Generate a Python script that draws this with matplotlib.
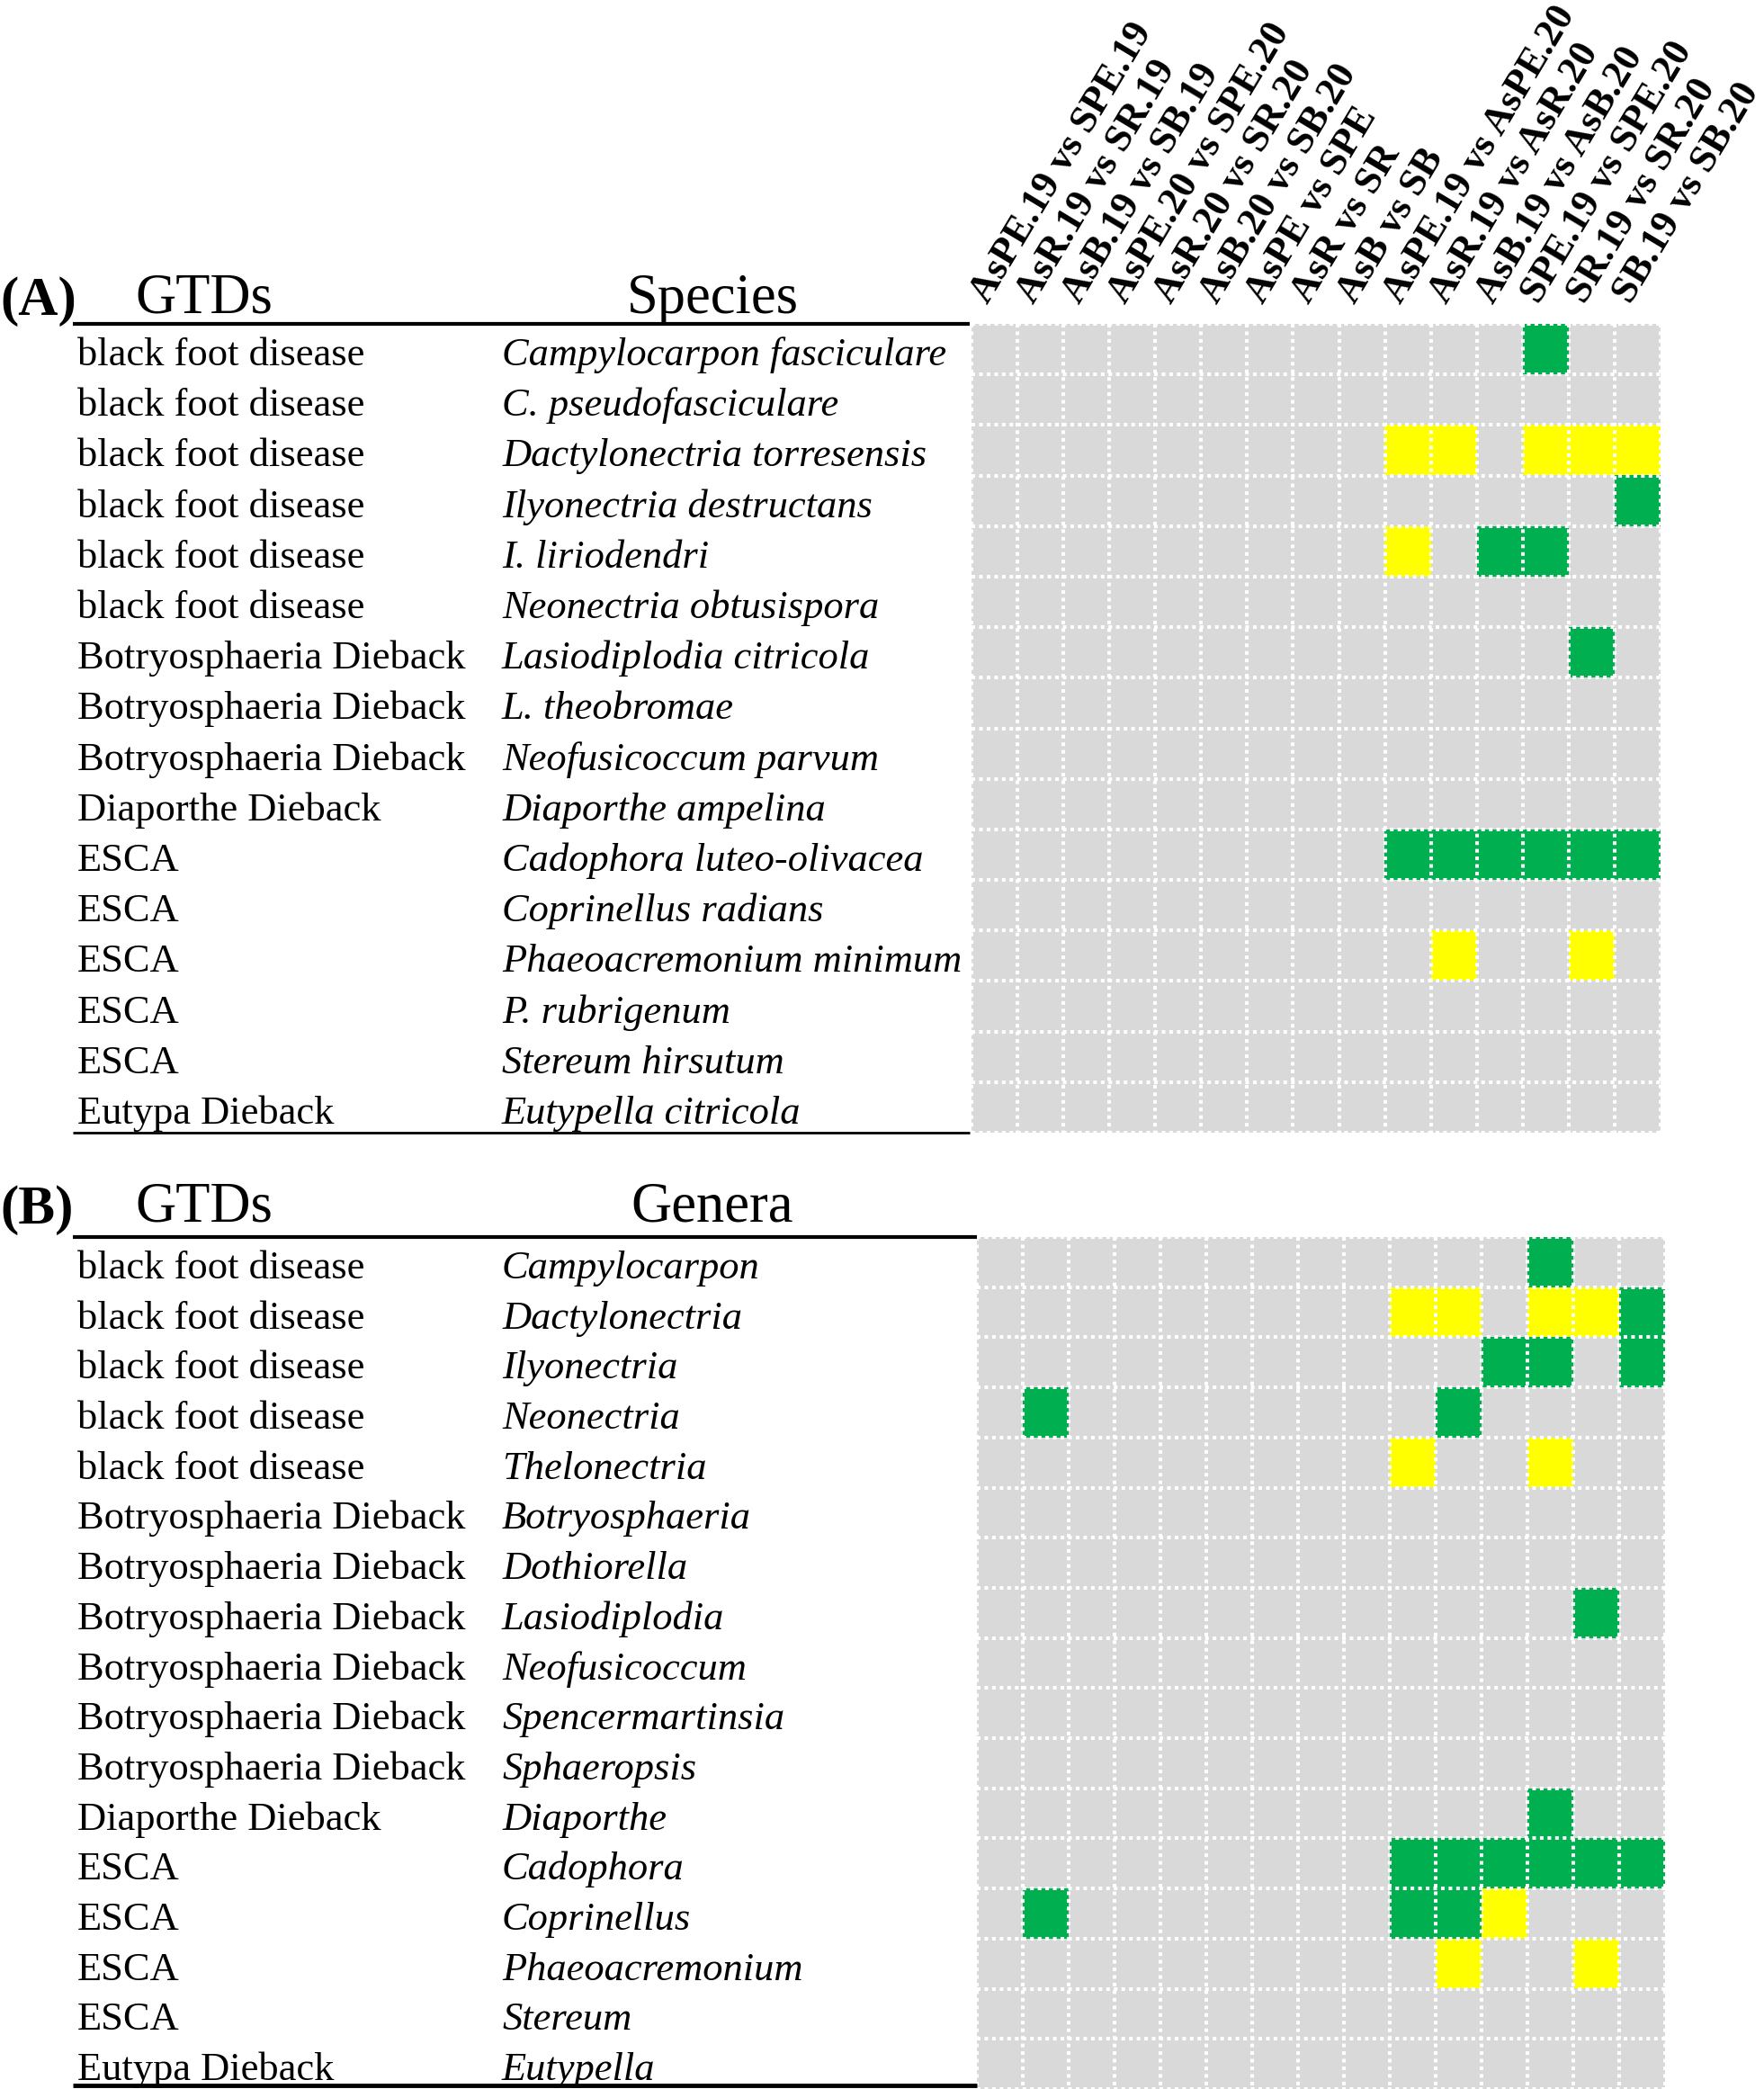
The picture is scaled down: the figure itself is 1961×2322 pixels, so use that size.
import numpy as np
import matplotlib.pyplot as plt
from matplotlib.colors import ListedColormap

plt.rcParams['font.family'] = ['Liberation Serif', 'DejaVu Serif']

comparisons = ["AsPE.19 vs SPE.19", "AsR.19 vs SR.19", "AsB.19 vs SB.19",
               "AsPE.20 vs SPE.20", "AsR.20 vs SR.20", "AsB.20 vs SB.20",
               "AsPE vs SPE", "AsR vs SR", "AsB vs SB",
               "AsPE.19 vs AsPE.20", "AsR.19 vs AsR.20", "AsB.19 vs AsB.20",
               "SPE.19 vs SPE.20", "SR.19 vs SR.20", "SB.19 vs SB.20"]

# (A) species
gtd_a = ["black foot disease"] * 6 + ["Botryosphaeria Dieback"] * 3 + \
        ["Diaporthe Dieback"] + ["ESCA"] * 5 + ["Eutypa Dieback"]
species = ["Campylocarpon fasciculare", "C. pseudofasciculare", "Dactylonectria torresensis",
           "Ilyonectria destructans", "I. liriodendri", "Neonectria obtusispora",
           "Lasiodiplodia citricola", "L. theobromae", "Neofusicoccum parvum",
           "Diaporthe ampelina", "Cadophora luteo-olivacea", "Coprinellus radians",
           "Phaeoacremonium minimum", "P. rubrigenum", "Stereum hirsutum",
           "Eutypella citricola"]
# 0 = no change, 1 = yellow, 2 = green
cells_a = ["000000000000200",
           "000000000000000",
           "000000000110111",
           "000000000000002",
           "000000000102200",
           "000000000000000",
           "000000000000020",
           "000000000000000",
           "000000000000000",
           "000000000000000",
           "000000000222222",
           "000000000000000",
           "000000000010010",
           "000000000000000",
           "000000000000000",
           "000000000000000"]

# (B) genera
gtd_b = ["black foot disease"] * 5 + ["Botryosphaeria Dieback"] * 6 + \
        ["Diaporthe Dieback"] + ["ESCA"] * 4 + ["Eutypa Dieback"]
genera = ["Campylocarpon", "Dactylonectria", "Ilyonectria", "Neonectria", "Thelonectria",
          "Botryosphaeria", "Dothiorella", "Lasiodiplodia", "Neofusicoccum",
          "Spencermartinsia", "Sphaeropsis", "Diaporthe", "Cadophora", "Coprinellus",
          "Phaeoacremonium", "Stereum", "Eutypella"]
cells_b = ["000000000000200",
           "000000000110112",
           "000000000002202",
           "020000000020000",
           "000000000100100",
           "000000000000000",
           "000000000000000",
           "000000000000020",
           "000000000000000",
           "000000000000000",
           "000000000000000",
           "000000000000200",
           "000000000222222",
           "020000000221000",
           "000000000010010",
           "000000000000000",
           "000000000000000"]

cmap = ListedColormap(['#D9D9D9', '#FFFF00', '#00B050'])

W, H = 1961, 2322
fig = plt.figure(figsize=(W / 100, H / 100), dpi=100)
ax = fig.add_axes([0, 0, 1, 1])


def panel(tag, head2, gtds, names, cells, gx0, gx1, gy0, gy1, lx0, ty):
    m = np.array([[int(c) for c in r] for r in cells])
    nr, nc = m.shape
    ax.imshow(m, cmap=cmap, vmin=0, vmax=2, extent=(gx0, gx1, gy1, gy0),
              interpolation='nearest', aspect='auto', origin='upper')
    xs = np.linspace(gx0, gx1, nc + 1)
    ys = np.linspace(gy0, gy1, nr + 1)
    ax.hlines(ys, gx0, gx1, colors='white', linewidth=2.9, linestyles=(0, (1, 1.1)))
    ax.vlines(xs, gy0, gy1, colors='white', linewidth=2.9, linestyles=(0, (1, 1.1)))
    rh = (gy1 - gy0) / nr
    for i in range(nr):
        yc = gy0 + (i + 0.5) * rh + 18
        ax.text(86, yc, gtds[i], fontsize=32, va='baseline', ha='left')
        ax.text(558, yc, names[i], fontsize=32, style='italic', va='baseline', ha='left')
    # header and rules
    ax.text(0, ty + 2, tag, fontsize=44, fontweight='bold', va='baseline', ha='left')
    ax.text(227, ty, "GTDs", fontsize=45, va='baseline', ha='center')
    ax.text(792, ty, head2, fontsize=45, va='baseline', ha='center')
    ax.plot([81, lx0], [gy0, gy0], color='black', lw=3, solid_capstyle='butt')
    return xs


xs = panel("(A)", "Species", gtd_a, species, cells_a, 1080, 1846, 360, 1259, 1078, 348)
ax.plot([81, 1078], [1259, 1259], color='black', lw=2, solid_capstyle='butt')
panel("(B)", "Genera", gtd_b, genera, cells_b, 1086, 1851, 1375, 2322, 1086, 1358)
ax.plot([81, 1086], [2318, 2318], color='black', lw=3.5, solid_capstyle='butt')

# rotated comparison labels
for j, lab in enumerate(comparisons):
    xc = (xs[j] + xs[j + 1]) / 2
    ax.text(xc, 344, lab, fontsize=31.5, fontweight='bold', rotation=59,
            rotation_mode='anchor', ha='left', va='bottom')

ax.set_xlim(0, W)
ax.set_ylim(H, 0)
ax.axis('off')
fig.savefig('out.png', dpi=100)
